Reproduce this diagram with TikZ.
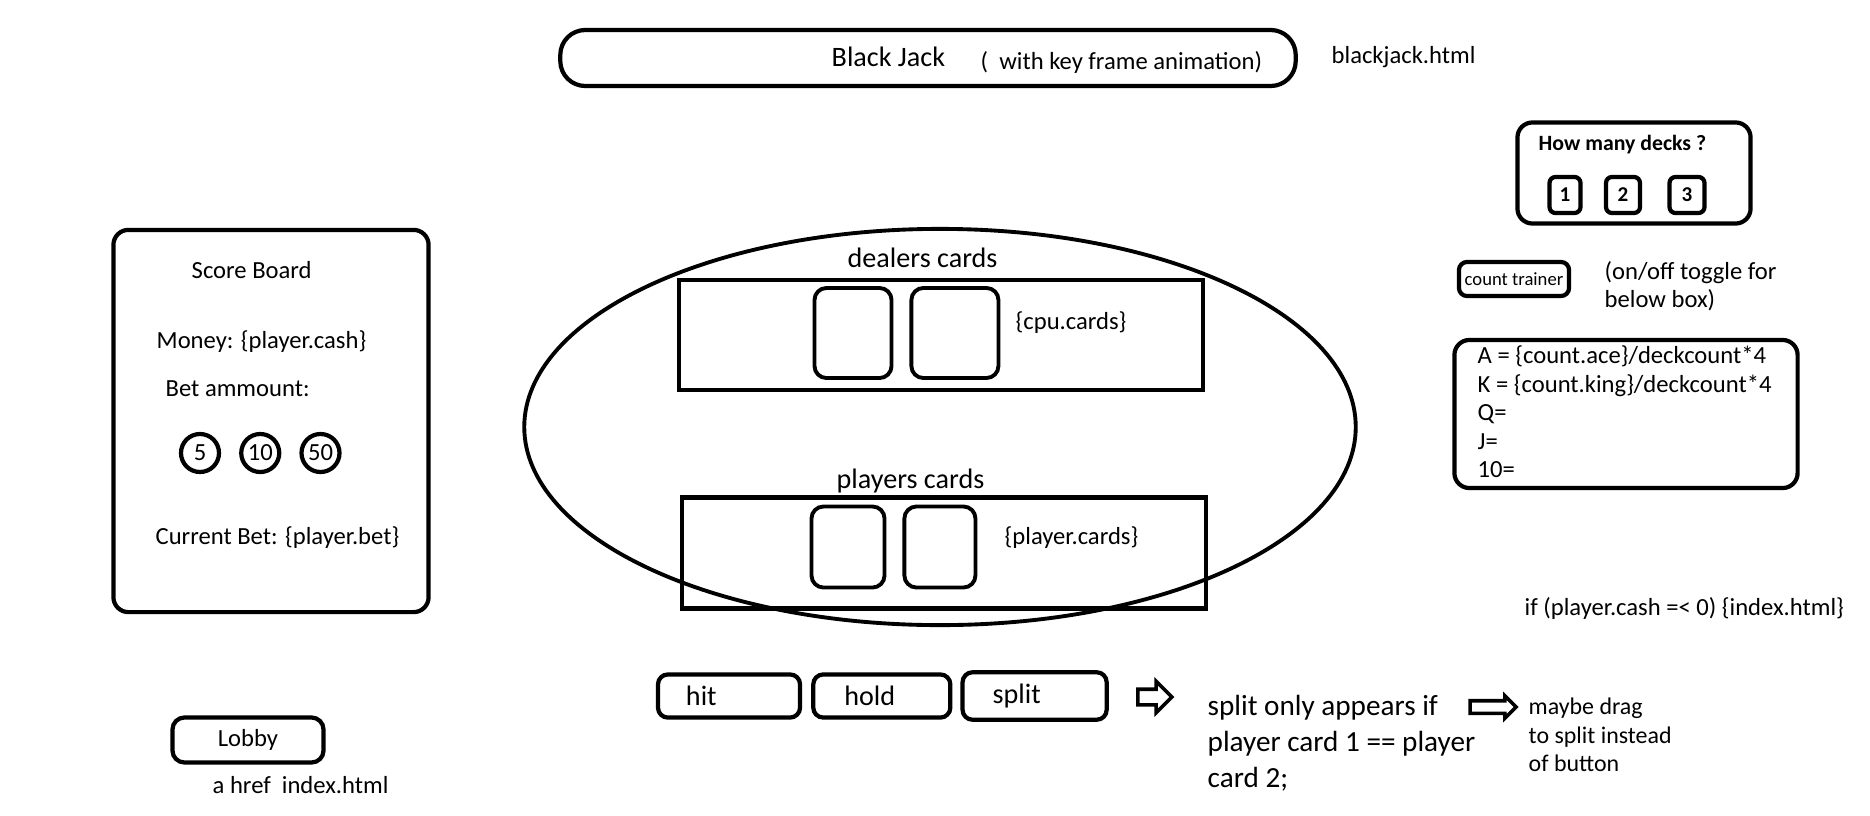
\documentclass[tikz,border=0pt]{standalone}
\usepackage{fontspec}
\setmainfont{Carlito}
\usepackage{tikz}
\usetikzlibrary{shapes,positioning}
\tikzstyle{frame} = [draw, line width=1.2pt, rounded corners=0.15cm, inner sep=0pt]
\tikzstyle{cardslot} = [draw, line width=1.2pt, inner sep=0pt]
\tikzstyle{card} = [draw, line width=1.1pt, rounded corners=0.12cm, minimum height=0.9cm, inner sep=0pt]
\tikzstyle{chip} = [draw, circle, line width=1.2pt, minimum size=0.38cm, inner sep=0pt, font=\fontsize{7}{8}\selectfont]
\tikzstyle{btn} = [draw, line width=1.2pt, rounded corners=0.1cm, minimum height=0.41cm, align=left, font=\fontsize{8}{9}\selectfont]
\tikzstyle{deckbtn} = [draw, line width=1.2pt, rounded corners=0.06cm, minimum height=0.36cm, inner sep=0pt, font=\bfseries\fontsize{6}{7}\selectfont]
\tikzstyle{txt} = [anchor=west, inner sep=0pt, align=left, font=\fontsize{7}{8.1}\selectfont]
\tikzstyle{bigtxt} = [anchor=west, inner sep=0pt, align=left, font=\fontsize{8}{10.2}\selectfont]
\tikzstyle{note} = [single arrow, draw, line width=1pt, inner sep=0pt]

\begin{document}
\begin{tikzpicture}[x=0.01cm, y=-0.01cm]
\useasboundingbox (0,0) rectangle (1870,815);

% Title bar
\node (title) [frame, rounded corners=0.25cm, minimum width=7.35cm, minimum height=0.56cm] at (928,58) {};
\node (bj) [bigtxt] at (831,57) {Black Jack};
\node (anim) [txt] at (980,62) {(\ \ with key frame animation)};
\node (page) [txt] at (1331,57) {blackjack.html};

% Score board
\node (score) [frame, minimum width=3.15cm, minimum height=3.82cm] at (271,421) {};
\node (scoretitle) [txt] at (191,270) {Score Board};
\node (money) [txt] at (156,342) {Money: \{player.cash\}};
\node (betamt) [txt] at (165,389) {Bet ammount:};
\node (chipA) [chip] at (200,453) {5};
\node (chipB) [chip, right=0.18cm of chipA] {10};
\node (chipC) [chip, right=0.18cm of chipB] {50};
\node (curbet) [txt] at (155,538) {Current Bet: \{player.bet\}};

% Table
\node (table) [draw, ellipse, line width=1.1pt, minimum width=8.31cm, minimum height=3.96cm] at (940,427) {};

% Dealer
\node (dealerlbl) [bigtxt] at (847,258) {dealers cards};
\node (dealer) [cardslot, minimum width=5.23cm, minimum height=1.1cm] at (941,335) {};
\node (dcardA) [card, minimum width=0.77cm] at (853,333) {};
\node (dcardB) [card, minimum width=0.87cm, right=0.16cm of dcardA] {};
\node (cpu) [txt] at (1015,323) {\{cpu.cards\}};

% Player
\node (playerlbl) [bigtxt] at (836,481) {players cards};
\node (player) [cardslot, minimum width=5.23cm, minimum height=1.11cm] at (944,553) {};
\node (pcardA) [card, minimum width=0.73cm, minimum height=0.81cm] at (848,547) {};
\node (pcardB) [card, minimum width=0.71cm, minimum height=0.81cm, right=0.16cm of pcardA] {};
\node (pcards) [txt] at (1004,538) {\{player.cards\}};

% Buttons
\node (hit) [btn, inner xsep=0.28cm, text width=0.86cm] at (729,696) {hit};
\node (hold) [btn, inner xsep=0.31cm, text width=0.75cm, right=0.09cm of hit] {hold};
\node (split) [btn, inner xsep=0.3cm, text width=0.84cm, right=0.08cm of hold] {split};
\node (arrA) [note, minimum height=0.34cm, inner ysep=0.06cm, single arrow head extend=0.08cm] at (1151,697) {};
\node (splitnote) [bigtxt, font=\fontsize{8.3}{10.2}\selectfont] at (1207,743) {split only appears if\\player card 1 == player\\card 2;};
\node (arrB) [note, minimum height=0.46cm, inner ysep=0.045cm, single arrow head extend=0.05cm] at (1490,707) {};
\node (dragnote) [txt, font=\fontsize{6.8}{8.1}\selectfont] at (1528,735) {maybe drag\\to split instead\\of button};

% Lobby
\node (lobby) [frame, rounded corners=0.12cm, minimum width=1.51cm, minimum height=0.45cm, font=\fontsize{7}{8}\selectfont] at (248,740) {Lobby};
\node (href) [txt] at (212,785) {a href\ \ index.html};

% Decks
\node (decks) [frame, minimum width=2.33cm, minimum height=1.01cm] at (1634,173) {};
\node (decktitle) [txt, font=\bfseries\fontsize{6.2}{7}\selectfont] at (1538,145) {How many decks ?};
\node (deckA) [deckbtn, minimum width=0.31cm] at (1565,195) {1};
\node (deckB) [deckbtn, minimum width=0.34cm] at (1623,195) {2};
\node (deckC) [deckbtn, minimum width=0.35cm] at (1687,195) {3};

% Count trainer
\node (trainer) [frame, rounded corners=0.08cm, minimum width=1.1cm, minimum height=0.34cm, font=\fontsize{5.3}{6}\selectfont] at (1514,279) {count trainer};
\node (toggle) [txt] at (1604,286) {(on/off toggle for\\below box)};
\node (counts) [frame, minimum width=3.43cm, minimum height=1.48cm] at (1626,414) {};
\node (countlist) [txt] at (1477,412) {A = \{count.ace\}/deckcount*4\\K = \{count.king\}/deckcount*4\\Q=\\J=\\10=};
\node (cashout) [txt] at (1524,608) {if (player.cash =< 0) \{index.html\}};

\end{tikzpicture}
\end{document}
